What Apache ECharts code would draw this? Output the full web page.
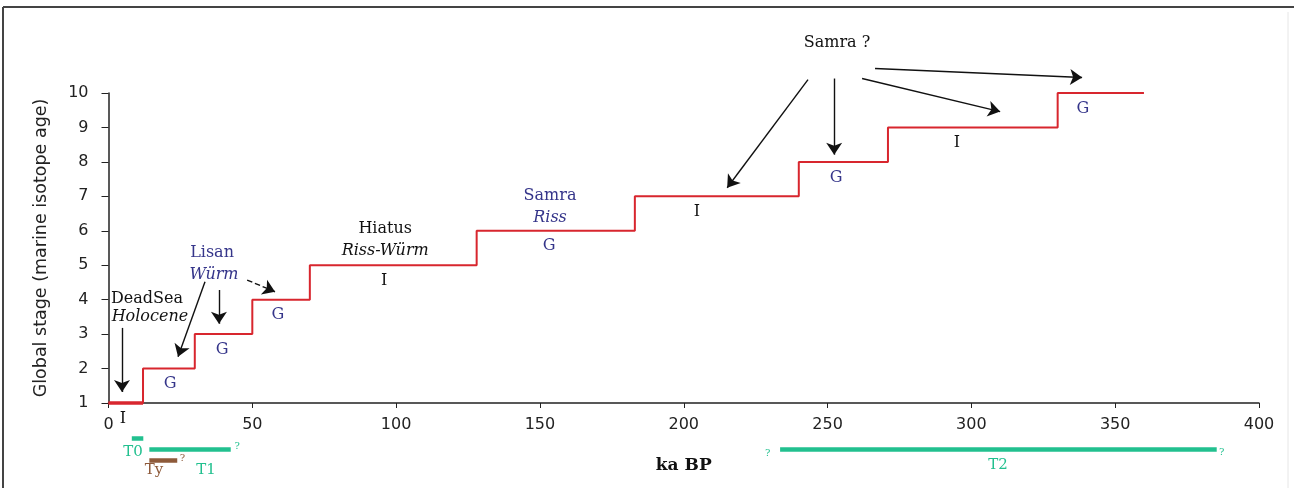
<!DOCTYPE html>
<html><head><meta charset="utf-8">
<script src="https://cdn.jsdelivr.net/npm/echarts@6/dist/echarts.min.js"></script>
<style>html,body{margin:0;padding:0;background:#fff}#c{width:1294px;height:488px}</style>
</head><body><div id="c"></div>
<script>
// ---- data ----
const xTicks = [0, 50, 100, 150, 200, 250, 300, 350, 400];
const stepAges = [0, 12, 30, 50, 70, 128, 183, 240, 271, 330, 360];
const stepStages = [1, 2, 3, 4, 5, 6, 7, 8, 9, 10, 10];
const holoceneAges = [0, 12];
const stageMarks = ['I', 'G', 'G', 'G', 'I', 'G', 'I', 'G', 'I', 'G'];
const stageMarkAges = [5, 21.4, 39.5, 58.9, 95.8, 153.2, 204.6, 253, 295, 338.8];
const stageMarkStages = [1, 2, 3, 4, 5, 6, 7, 8, 9, 10];
const terraceNames = ['T0', 'T1', 'Ty', 'T2'];
const terraceStart = [8.1, 14.2, 14.2, 233.5];
const terraceEnd = [12.1, 42.5, 23.9, 385.3];

// ---- layout / style (not data) ----
const RED = '#d8262e', TEAL = '#22c08f', BROWN = '#8e5a3a', BLUE = '#35358a', INK = '#111';
const terraceRow = [-0.03, -0.35, -0.66, -0.34];
const terraceColor = [TEAL, TEAL, BROWN, TEAL];
const terraceLabelPos = [[8.5, -0.42], [33.9, -0.95], [15.8, -0.95], [309.3, -0.8]];
const queryMarks = [[44.7, -0.27, TEAL], [25.7, -0.6, BROWN], [229.2, -0.45, TEAL], [387, -0.43, TEAL]];
const notes = [
  ['DeadSea', 13.4, 4.02, INK, 'normal'],
  ['Holocene', 14.4, 3.5, INK, 'italic'],
  ['Lisan', 36, 5.36, BLUE, 'normal'],
  ['Würm', 36.7, 4.72, BLUE, 'italic'],
  ['Hiatus', 96.2, 6.06, INK, 'normal'],
  ['Riss-Würm', 96.2, 5.42, INK, 'italic'],
  ['Samra', 153.5, 7.02, BLUE, 'normal'],
  ['Riss', 153.5, 6.38, BLUE, 'italic'],
  ['Samra ?', 253.3, 11.46, INK, 'normal']
];
const arrows = [
  [[4.69, 3.18], [4.69, 1.32], 'solid'],
  [[33.55, 4.52], [24.17, 2.34], 'solid'],
  [[38.4, 4.28], [38.4, 3.30], 'solid'],
  [[48.2, 4.57], [57.9, 4.23], 'dashed'],
  [[243.2, 10.39], [215.1, 7.25], 'solid'],
  [[252.3, 10.42], [252.3, 8.21], 'solid'],
  [[262, 10.42], [310, 9.46], 'solid'],
  [[266.5, 10.71], [338.5, 10.45], 'solid']
];

const serif = 'DejaVu Serif';
const sans = 'DejaVu Sans';
const chart = echarts.init(document.getElementById('c'), null, {renderer: 'canvas'});

const textSeries = (data, size) => ({
  type: 'scatter', clip: false, silent: true, symbolSize: 0, z: 5,
  itemStyle: {opacity: 1},
  data: data,
  label: {show: true, position: 'inside', formatter: p => p.data.name,
    fontFamily: serif, fontSize: size, opacity: 1}
});

chart.setOption({
  animation: false,
  backgroundColor: '#fff',
  graphic: [
    {type: 'line', shape: {x1: 3, y1: 7, x2: 1294, y2: 7}, style: {stroke: '#444', lineWidth: 2}},
    {type: 'line', shape: {x1: 3, y1: 7, x2: 3, y2: 488}, style: {stroke: '#444', lineWidth: 2}},
    {type: 'line', shape: {x1: 1288, y1: 12, x2: 1288, y2: 488}, style: {stroke: '#e6e6e6', lineWidth: 1}}
  ],
  grid: {left: 108.5, right: 35, top: 93, bottom: 85, containLabel: false},
  xAxis: {
    type: 'value', min: 0, max: 400, interval: 50,
    name: 'ka BP', nameLocation: 'middle', nameGap: 54,
    nameTextStyle: {fontFamily: serif, fontWeight: 'bold', fontSize: 17, color: INK},
    axisLine: {lineStyle: {color: '#222', width: 1.5}},
    axisTick: {length: 5, lineStyle: {color: '#222'}},
    axisLabel: {margin: 14, fontFamily: sans, fontSize: 16, color: '#222',
      formatter: v => xTicks.includes(v) ? String(v) : ''},
    splitLine: {show: false}
  },
  yAxis: {
    type: 'value', min: 1, max: 10, interval: 1,
    name: 'Global stage (marine isotope age)', nameLocation: 'middle', nameGap: 58,
    nameTextStyle: {fontFamily: sans, fontSize: 17.5, color: '#222'},
    axisLine: {show: true, lineStyle: {color: '#222', width: 1.5}},
    axisTick: {show: true, length: 7, lineStyle: {color: '#222'}},
    axisLabel: {margin: 20, fontFamily: sans, fontSize: 16, color: '#222'},
    splitLine: {show: false}
  },
  series: [
    {
      type: 'line', step: 'end', silent: true, symbol: 'none', clip: false, z: 3,
      data: stepAges.map((a, i) => [a, stepStages[i]]),
      lineStyle: {color: RED, width: 2}
    },
    {
      type: 'line', silent: true, symbol: 'none', clip: false, z: 4,
      data: holoceneAges.map(a => [a, 1]),
      lineStyle: {color: RED, width: 3.5}
    },
    {
      type: 'lines', coordinateSystem: 'cartesian2d', clip: false, silent: true, z: 6,
      symbol: ['none', 'arrow'], symbolSize: [0, 12],
      data: arrows.map(a => ({coords: [a[0], a[1]], lineStyle: {type: a[2]}})),
      lineStyle: {color: INK, width: 1.4, opacity: 1}
    },
    {
      type: 'lines', coordinateSystem: 'cartesian2d', clip: false, silent: true, z: 6,
      symbol: 'none',
      data: terraceNames.map((n, i) => ({
        coords: [[terraceStart[i], terraceRow[i]], [terraceEnd[i], terraceRow[i]]],
        lineStyle: {color: terraceColor[i]}
      })),
      lineStyle: {width: 4.5, opacity: 1}
    },
    textSeries(stageMarks.map((m, i) => ({
      name: m, value: [stageMarkAges[i], stageMarkStages[i] - 0.45],
      label: {color: m === 'G' ? BLUE : INK}
    })), 16),
    textSeries(notes.map(n => ({
      name: n[0], value: [n[1], n[2]],
      label: {color: n[3], fontStyle: n[4]}
    })), 16),
    textSeries(terraceNames.map((n, i) => ({
      name: n, value: terraceLabelPos[i],
      label: {color: terraceColor[i]}
    })), 15),
    textSeries(queryMarks.map(q => ({
      name: '?', value: [q[0], q[1]], label: {color: q[2]}
    })), 10)
  ]
});
</script></body></html>
